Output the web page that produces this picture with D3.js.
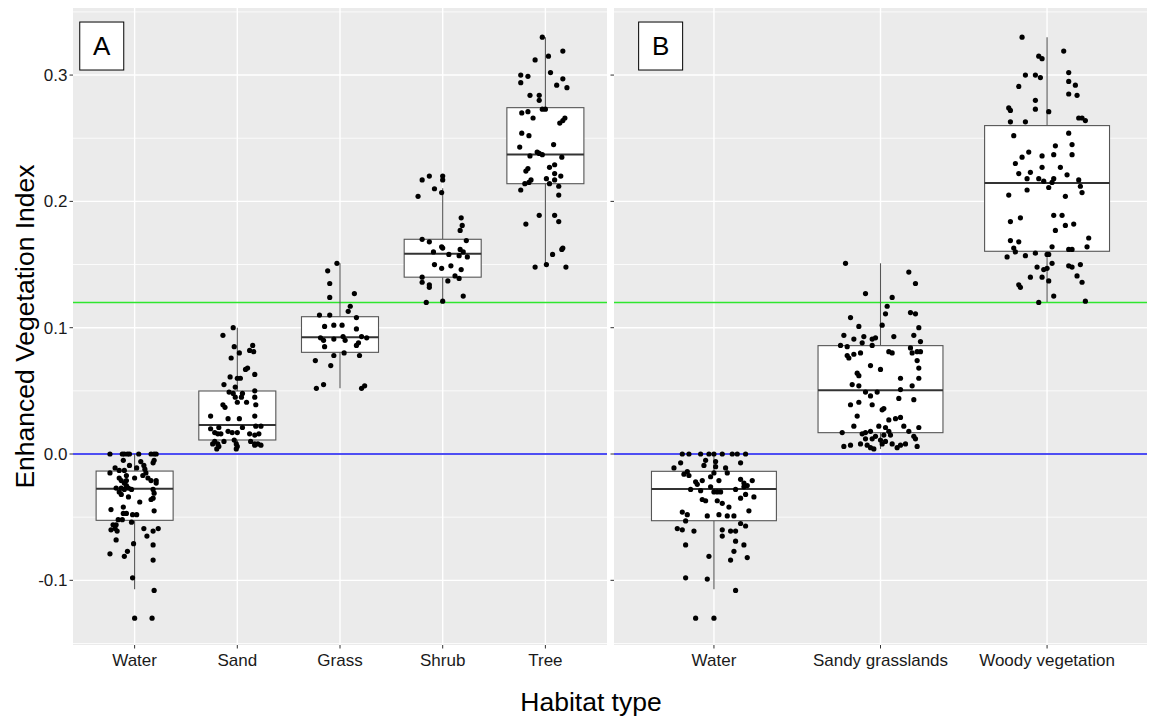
<!DOCTYPE html>
<html><head><meta charset="utf-8">
<script src="https://cdn.jsdelivr.net/npm/d3@7"></script>
<style>body{margin:0;background:#fff;} svg{display:block;font-family:"Liberation Sans",Arial,Helvetica,sans-serif;}</style>
</head><body><svg id="c" width="1155" height="718"></svg>
<script>
// ---------- DATA ----------
const categoriesA = ["Water", "Sand", "Grass", "Shrub", "Tree"];
const categoriesB = ["Water", "Sandy grasslands", "Woody vegetation"];
const yTicks = [-0.1, 0.0, 0.1, 0.2, 0.3];
const yTickLabels = ["-0.1", "0.0", "0.1", "0.2", "0.3"];
const yMinor = [-0.15, -0.05, 0.05, 0.15, 0.25, 0.35];
const refLines = [{value: 0.12, color: "#2ee62e"}, {value: 0.0, color: "#1414f0"}];

// box statistics: lower whisker, q1, median, q3, upper whisker
const lowerA  = [-0.107, 0.004, 0.052, 0.1206, 0.1496];
const q1A     = [-0.0525, 0.0111, 0.0805, 0.140, 0.214];
const medianA = [-0.0275, 0.023, 0.0924, 0.1586, 0.2372];
const q3A     = [-0.0135, 0.0499, 0.1087, 0.170, 0.2742];
const upperA  = [0.0, 0.1, 0.151, 0.2104, 0.33];

const lowerB  = [-0.107, 0.004, 0.1203];
const q1B     = [-0.0528, 0.0169, 0.1605];
const medianB = [-0.0277, 0.0504, 0.2146];
const q3B     = [-0.0137, 0.0858, 0.260];
const upperB  = [0.0, 0.151, 0.33];

// jittered points: [horizontal jitter (category units), EVI value]
const waterA = [[-0.24,0],[-0.12,0],[-0.10,0],[-0.07,0],[0.04,0],[0.16,0],[0.19,0],[0.21,0],[-0.05,0],
[-0.11,-0.005],[-0.05,-0.009],[0.06,-0.006],[0.09,-0.009],[0.19,-0.005],[0.18,-0.007],[-0.19,-0.011],[-0.15,-0.013],
[-0.24,-0.015],[-0.10,-0.013],[0.02,-0.011],[0.10,-0.012],[0.11,-0.015],[-0.08,-0.017],[0.08,-0.017],[-0.15,-0.019],
[-0.13,-0.021],[-0.08,-0.021],[0.00,-0.019],[0.13,-0.019],[0.16,-0.021],[0.21,-0.021],[-0.10,-0.023],[0.21,-0.023],
[-0.18,-0.027],[-0.13,-0.027],[-0.10,-0.028],[-0.06,-0.027],[-0.03,-0.028],[-0.15,-0.030],[-0.08,-0.025],[0.18,-0.028],
[0.19,-0.031],[-0.13,-0.032],[-0.06,-0.034],[0.18,-0.035],[0.16,-0.036],[0.05,-0.038],[-0.11,-0.042],[-0.23,-0.044],
[0.19,-0.045],[-0.11,-0.047],[-0.08,-0.047],[-0.02,-0.048],[0.02,-0.048],[-0.16,-0.052],[-0.12,-0.052],[-0.03,-0.054],
[-0.21,-0.056],[-0.18,-0.056],[-0.23,-0.060],[-0.19,-0.059],[-0.17,-0.061],[0.09,-0.059],[0.18,-0.061],[0.23,-0.059],
[0.12,-0.065],[-0.18,-0.068],[-0.01,-0.071],[0.18,-0.072],[-0.07,-0.077],[-0.24,-0.079],[-0.10,-0.081],[0.18,-0.084],
[-0.02,-0.098],[0.19,-0.108],[0.00,-0.130],[0.17,-0.130]];

const sandA = [[-0.04,0.100],[-0.14,0.094],[-0.03,0.085],[0.15,0.086],[0.02,0.080],[0.12,0.082],[0.16,0.081],[-0.06,0.076],
[0.10,0.068],[0.08,0.067],[-0.07,0.061],[0.00,0.060],[0.03,0.060],[0.17,0.063],[-0.13,0.055],[-0.02,0.053],[-0.08,0.049],
[-0.04,0.048],[0.05,0.048],[0.17,0.050],[-0.02,0.045],[0.04,0.045],[0.00,0.041],[0.09,0.041],[-0.14,0.039],[-0.12,0.037],
[0.17,0.045],[0.18,0.039],[-0.26,0.030],[-0.09,0.028],[0.02,0.028],[0.17,0.030],[-0.26,0.020],[-0.18,0.021],[-0.09,0.018],
[-0.05,0.017],[0.00,0.017],[0.05,0.021],[0.18,0.022],[0.23,0.022],[-0.22,0.017],[-0.19,0.016],[-0.16,0.016],[0.12,0.016],
[0.17,0.015],[0.21,0.016],[-0.22,0.010],[-0.19,0.008],[-0.18,0.006],[-0.13,0.010],[-0.03,0.011],[-0.01,0.008],[0.00,0.006],
[-0.01,0.004],[0.13,0.010],[0.17,0.008],[0.20,0.008],[0.23,0.007],[-0.24,0.008],[-0.20,0.004],[0.17,0.007]];

const grassA = [[-0.03,0.151],[-0.12,0.145],[-0.10,0.135],[-0.10,0.124],[0.14,0.127],[0.10,0.117],[0.08,0.113],[-0.20,0.110],
[-0.10,0.110],[0.16,0.108],[-0.15,0.101],[-0.06,0.102],[0.02,0.102],[0.16,0.099],[-0.19,0.092],[-0.16,0.090],[-0.06,0.091],
[0.03,0.093],[0.05,0.090],[0.21,0.093],[0.26,0.092],[-0.15,0.085],[-0.06,0.078],[0.04,0.080],[0.18,0.088],[0.16,0.086],
[0.19,0.078],[-0.24,0.074],[-0.09,0.070],[-0.23,0.052],[-0.16,0.055],[0.21,0.052],[0.24,0.054]];

const shrubA = [[-0.13,0.220],[0.00,0.220],[0.00,0.217],[-0.20,0.217],[-0.08,0.210],[-0.01,0.207],[-0.24,0.204],[0.18,0.187],
[0.19,0.181],[0.17,0.177],[-0.20,0.170],[-0.13,0.168],[-0.01,0.164],[0.00,0.163],[-0.09,0.160],[0.17,0.162],[0.20,0.160],
[0.23,0.169],[0.16,0.157],[0.24,0.156],[0.06,0.158],[-0.08,0.150],[-0.01,0.147],[0.08,0.149],[0.18,0.146],[0.12,0.141],
[0.16,0.139],[-0.20,0.140],[-0.20,0.136],[-0.13,0.134],[-0.13,0.132],[0.05,0.137],[0.20,0.125],[-0.16,0.120],[0.00,0.121]];

const treeA = [[-0.03,0.330],[0.17,0.319],[-0.10,0.312],[0.03,0.315],[0.05,0.302],[-0.24,0.300],[-0.17,0.299],[-0.24,0.294],
[0.17,0.297],[0.11,0.292],[0.21,0.290],[-0.15,0.284],[-0.06,0.284],[-0.06,0.280],[-0.03,0.273],[0.00,0.273],[-0.23,0.270],
[-0.17,0.271],[-0.12,0.266],[0.14,0.262],[0.17,0.264],[0.19,0.266],[-0.23,0.254],[-0.16,0.252],[0.08,0.245],[-0.25,0.243],
[-0.08,0.239],[-0.06,0.238],[-0.03,0.237],[-0.15,0.236],[0.16,0.235],[-0.17,0.226],[-0.19,0.224],[0.04,0.227],[0.09,0.229],
[0.09,0.222],[0.15,0.220],[-0.14,0.217],[-0.16,0.215],[-0.20,0.214],[0.01,0.218],[0.04,0.214],[0.09,0.217],[-0.24,0.209],
[0.13,0.212],[0.13,0.205],[-0.06,0.189],[0.09,0.189],[0.13,0.184],[-0.19,0.182],[0.17,0.163],[0.16,0.162],[0.07,0.158],
[-0.10,0.148],[0.01,0.150],[0.20,0.148]];

const waterB = [[-0.19,0],[-0.15,0],[-0.08,0],[-0.03,0],[0.00,0],[0.05,0],[0.11,0],[0.14,0],[0.19,0],
[-0.05,-0.005],[0.01,-0.006],[0.16,-0.007],[-0.20,-0.007],[-0.24,-0.011],[-0.06,-0.009],[0.01,-0.010],[0.07,-0.011],
[0.08,-0.015],[-0.18,-0.016],[-0.16,-0.014],[-0.15,-0.017],[0.00,-0.015],[-0.07,-0.021],[-0.02,-0.018],[0.03,-0.021],
[-0.11,-0.022],[-0.10,-0.024],[0.16,-0.020],[0.18,-0.023],[0.23,-0.021],[0.20,-0.025],[-0.14,-0.028],[-0.08,-0.029],
[-0.02,-0.026],[0.00,-0.030],[0.02,-0.030],[0.04,-0.030],[0.13,-0.028],[0.18,-0.026],[0.19,-0.032],[0.16,-0.035],
[0.24,-0.034],[-0.07,-0.036],[-0.05,-0.037],[0.02,-0.037],[0.05,-0.039],[0.09,-0.042],[-0.19,-0.046],[-0.16,-0.048],
[-0.04,-0.049],[0.03,-0.048],[0.08,-0.049],[0.12,-0.049],[0.21,-0.045],[-0.17,-0.053],[0.16,-0.055],[0.19,-0.057],
[-0.22,-0.059],[-0.19,-0.060],[-0.12,-0.061],[0.05,-0.060],[0.10,-0.061],[0.13,-0.061],[0.05,-0.065],[0.13,-0.069],
[0.18,-0.072],[-0.17,-0.072],[-0.03,-0.081],[0.12,-0.077],[0.10,-0.084],[0.20,-0.082],[-0.17,-0.098],[-0.04,-0.099],
[0.13,-0.108],[-0.11,-0.130],[0.00,-0.130]];

const sandyB = [[-0.21,0.151],[0.17,0.144],[0.21,0.135],[-0.09,0.127],[0.07,0.124],[0.04,0.117],[0.03,0.111],[0.18,0.112],
[0.21,0.111],[-0.18,0.108],[-0.13,0.101],[0.01,0.102],[0.23,0.100],[-0.22,0.094],[-0.16,0.091],[-0.10,0.093],[-0.05,0.091],
[-0.03,0.092],[0.08,0.093],[0.20,0.094],[0.24,0.089],[-0.24,0.086],[-0.20,0.085],[-0.11,0.088],[-0.05,0.086],[0.18,0.084],
[0.19,0.080],[0.22,0.081],[0.24,0.081],[-0.20,0.078],[-0.19,0.076],[-0.16,0.079],[-0.12,0.080],[0.05,0.081],[0.07,0.080],
[0.22,0.074],[-0.06,0.070],[0.00,0.067],[0.23,0.068],[-0.14,0.064],[-0.13,0.062],[0.12,0.060],[0.23,0.060],[-0.17,0.055],
[-0.13,0.054],[0.19,0.054],[-0.09,0.049],[-0.02,0.049],[0.12,0.051],[-0.06,0.046],[-0.05,0.039],[-0.13,0.041],[-0.18,0.039],
[0.11,0.044],[0.20,0.043],[0.02,0.036],[0.01,0.035],[-0.14,0.030],[0.05,0.027],[0.09,0.028],[0.12,0.029],[-0.16,0.022],
[-0.01,0.022],[0.03,0.021],[0.14,0.022],[0.23,0.021],[-0.23,0.017],[-0.11,0.016],[-0.09,0.017],[-0.06,0.018],[-0.03,0.014],
[0.02,0.015],[0.05,0.018],[0.06,0.015],[0.17,0.018],[0.20,0.014],[0.21,0.012],[-0.09,0.012],[-0.05,0.012],[0.00,0.011],
[0.03,0.010],[0.07,0.008],[-0.22,0.006],[-0.18,0.007],[-0.12,0.008],[-0.08,0.007],[-0.06,0.005],[-0.04,0.004],[0.01,0.008],
[0.10,0.005],[0.12,0.007],[0.15,0.008],[0.22,0.006]];

const woodyB = [[-0.15,0.330],[0.10,0.319],[-0.05,0.315],[-0.03,0.313],[-0.13,0.300],[-0.07,0.300],[-0.04,0.298],[0.13,0.302],
[0.13,0.295],[0.17,0.292],[-0.17,0.291],[0.13,0.285],[0.18,0.284],[-0.07,0.280],[-0.23,0.274],[-0.22,0.272],[-0.07,0.273],
[0.01,0.271],[-0.22,0.263],[-0.13,0.263],[0.19,0.266],[0.21,0.266],[0.23,0.264],[-0.20,0.252],[0.13,0.254],[0.15,0.245],
[0.05,0.244],[-0.11,0.239],[-0.15,0.235],[-0.03,0.236],[0.04,0.237],[0.15,0.237],[-0.19,0.230],[-0.03,0.227],[0.08,0.227],
[-0.17,0.222],[-0.10,0.223],[-0.12,0.218],[-0.05,0.218],[-0.02,0.216],[0.04,0.218],[0.12,0.221],[0.19,0.217],[0.20,0.212],
[0.01,0.211],[0.03,0.215],[-0.23,0.205],[-0.12,0.209],[0.21,0.207],[0.11,0.204],[-0.22,0.184],[-0.16,0.187],[0.04,0.189],
[0.09,0.189],[0.05,0.177],[0.11,0.181],[0.16,0.182],[-0.22,0.169],[-0.17,0.168],[0.25,0.171],[0.24,0.164],[-0.20,0.163],
[-0.19,0.160],[-0.13,0.157],[-0.07,0.159],[0.00,0.158],[0.01,0.158],[0.03,0.164],[0.13,0.162],[0.15,0.162],[-0.24,0.156],
[0.03,0.151],[0.13,0.149],[0.15,0.148],[0.20,0.150],[-0.06,0.148],[-0.02,0.146],[0.00,0.147],[-0.03,0.140],[0.01,0.137],
[-0.10,0.140],[0.18,0.141],[0.21,0.136],[-0.17,0.134],[-0.16,0.132],[0.04,0.125],[-0.05,0.120],[0.23,0.121]];

const pointsA = [waterA, sandA, grassA, shrubA, treeA];
const pointsB = [waterB, sandyB, woodyB];
const panelLabels = ["A", "B"];
const labelPos = {x: 0.68, y: 0.323}; // in data units (category index 1-based, EVI)

// ---------- LAYOUT ----------
const svg = d3.select("#c");
const plotTop = 8, plotBottom = 645;
const panels = [
  {x0: 73, x1: 607, cats: categoriesA, lo: lowerA, q1: q1A, med: medianA, q3: q3A, hi: upperA, pts: pointsA, label: panelLabels[0], showLabels: true},
  {x0: 614, x1: 1147, cats: categoriesB, lo: lowerB, q1: q1B, med: medianB, q3: q3B, hi: upperB, pts: pointsB, label: panelLabels[1], showLabels: false}
];
const y = d3.scaleLinear().domain([-0.1512, 0.3531]).range([plotBottom, plotTop]);

panels.forEach(p => {
  const x = d3.scalePoint().domain(p.cats).range([p.x0, p.x1]).padding(0.6);
  const step = x.step();
  const g = svg.append("g");
  g.append("rect").attr("x", p.x0).attr("y", plotTop).attr("width", p.x1 - p.x0).attr("height", plotBottom - plotTop).attr("fill", "#ebebeb");
  g.selectAll(".mg").data(yMinor).join("line")
    .attr("x1", p.x0).attr("x2", p.x1).attr("y1", d => y(d)).attr("y2", d => y(d))
    .attr("stroke", "#fff").attr("stroke-width", 0.8);
  g.selectAll(".Mg").data(yTicks).join("line")
    .attr("x1", p.x0).attr("x2", p.x1).attr("y1", d => y(d)).attr("y2", d => y(d))
    .attr("stroke", "#fff").attr("stroke-width", 1.4);
  g.selectAll(".xg").data(p.cats).join("line")
    .attr("x1", d => x(d)).attr("x2", d => x(d)).attr("y1", plotTop).attr("y2", plotBottom)
    .attr("stroke", "#fff").attr("stroke-width", 1.4);
  g.selectAll(".ref").data(refLines).join("line")
    .attr("x1", p.x0).attr("x2", p.x1).attr("y1", d => y(d.value)).attr("y2", d => y(d.value))
    .attr("stroke", d => d.color).attr("stroke-width", 1.5);
  const bw = step * 0.75;
  p.cats.forEach((c, i) => {
    const cx = x(c);
    g.append("line").attr("x1", cx).attr("x2", cx).attr("y1", y(p.q3[i])).attr("y2", y(p.hi[i])).attr("stroke", "#555").attr("stroke-width", 1.1);
    g.append("line").attr("x1", cx).attr("x2", cx).attr("y1", y(p.q1[i])).attr("y2", y(p.lo[i])).attr("stroke", "#555").attr("stroke-width", 1.1);
    g.append("rect").attr("x", cx - bw / 2).attr("width", bw).attr("y", y(p.q3[i])).attr("height", y(p.q1[i]) - y(p.q3[i]))
      .attr("fill", "#fff").attr("stroke", "#555").attr("stroke-width", 1.1);
    g.append("line").attr("x1", cx - bw / 2).attr("x2", cx + bw / 2).attr("y1", y(p.med[i])).attr("y2", y(p.med[i]))
      .attr("stroke", "#333").attr("stroke-width", 2);
    g.selectAll(null).data(p.pts[i]).join("circle")
      .attr("cx", d => cx + d[0] * step).attr("cy", d => y(d[1])).attr("r", 2.6).attr("fill", "#000");
  });
  const lx = p.x0 + (labelPos.x - 1) * step + 0.6 * step;
  const lyc = y(labelPos.y);
  g.append("rect").attr("x", lx - 22).attr("y", lyc - 24).attr("width", 44).attr("height", 48)
    .attr("fill", "#fff").attr("stroke", "#000").attr("stroke-width", 1);
  g.append("text").attr("x", lx).attr("y", lyc + 9).attr("text-anchor", "middle").attr("font-size", 26).attr("fill", "#000").text(p.label);
  g.selectAll(".yt").data(yTicks).join("line")
    .attr("x1", p.x0 - 3.5).attr("x2", p.x0).attr("y1", d => y(d)).attr("y2", d => y(d)).attr("stroke", "#333").attr("stroke-width", 1);
  if (p.showLabels) {
    g.selectAll(".yl").data(yTicks).join("text")
      .attr("x", p.x0 - 5.5).attr("y", d => y(d) + 6).attr("text-anchor", "end").attr("font-size", 17).attr("fill", "#1a1a1a")
      .text((d, i) => yTickLabels[i]);
  }
  g.selectAll(".xt").data(p.cats).join("line")
    .attr("x1", d => x(d)).attr("x2", d => x(d)).attr("y1", plotBottom).attr("y2", plotBottom + 3.5).attr("stroke", "#333").attr("stroke-width", 1);
  g.selectAll(".xl").data(p.cats).join("text")
    .attr("x", d => x(d)).attr("y", plotBottom + 21).attr("text-anchor", "middle").attr("font-size", 17).attr("fill", "#1a1a1a").text(d => d);
});

svg.append("text").attr("transform", `translate(34,${(plotTop + plotBottom) / 2}) rotate(-90)`).attr("text-anchor", "middle")
  .attr("font-size", 26.5).attr("fill", "#000").text("Enhanced Vegetation Index");
svg.append("text").attr("x", 591).attr("y", 711).attr("text-anchor", "middle")
  .attr("font-size", 26.5).attr("fill", "#000").text("Habitat type");
</script></body></html>
